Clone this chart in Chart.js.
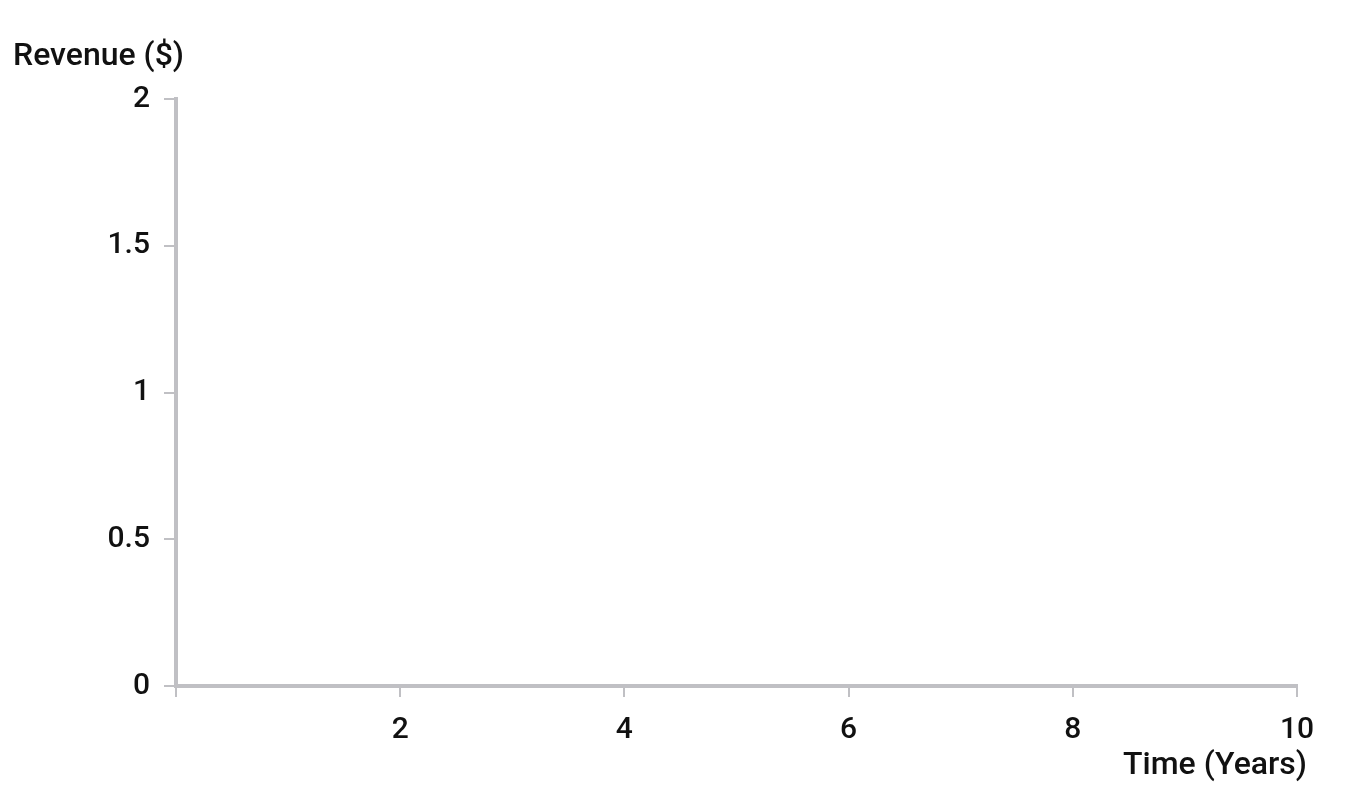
<!DOCTYPE html>
<html>
<head>
<meta charset="utf-8">
<script src="https://cdn.jsdelivr.net/npm/chart.js@4.4.0/dist/chart.umd.min.js"></script>
<style>
  html, body { margin: 0; padding: 0; background: #fff; }
  #wrap { width: 1372px; height: 800px; position: relative; }
</style>
</head>
<body>
<div id="wrap"><canvas id="chart"></canvas></div>
<script>
// axes only, no data plotted yet
const xTicks = [0, 2, 4, 6, 8, 10];
const yTicks = [0, 0.5, 1, 1.5, 2];
const revenue = [];
const xTitle = "Time (Years)";
const yTitle = "Revenue ($)";

const axisColor = "#c0c0c4";
const textColor = "#111";
const font = { family: "Roboto", size: 30, weight: "500" };

// draws the two axis titles horizontally, like the original
const titlePlugin = {
  id: "titles",
  afterDraw(chart) {
    const { ctx, chartArea } = chart;
    ctx.save();
    ctx.fillStyle = textColor;
    ctx.font = "500 32px Roboto";
    ctx.textBaseline = "middle";
    ctx.textAlign = "left";
    ctx.fillText(yTitle, 13, 57);
    ctx.textAlign = "right";
    ctx.fillText(xTitle, chartArea.right + 10, 766);
    ctx.restore();
  }
};

new Chart(document.getElementById("chart"), {
  type: "scatter",
  data: {
    datasets: [{ label: "Revenue", data: revenue, borderColor: "#1f77b4" }]
  },
  options: {
    responsive: true,
    maintainAspectRatio: false,
    animation: false,
    layout: { padding: { left: 0, top: 99, right: 75, bottom: 0 } },
    plugins: { legend: { display: false }, tooltip: { enabled: false } },
    scales: {
      x: {
        type: "linear",
        min: 0,
        max: 10,
        afterBuildTicks: (s) => { s.ticks = xTicks.map(v => ({ value: v })); },
        afterFit: (s) => { s.height = 800 - 686; },
        border: { display: true, color: axisColor, width: 4 },
        grid: { drawOnChartArea: false, drawTicks: true, tickLength: 11, color: axisColor, lineWidth: 2 },
        ticks: {
          color: textColor, font, padding: 15, maxRotation: 0,
          callback: (v) => v === 0 ? "" : String(v)
        }
      },
      y: {
        type: "linear",
        min: 0,
        max: 2,
        afterBuildTicks: (s) => { s.ticks = yTicks.map(v => ({ value: v })); },
        afterFit: (s) => { s.width = 176; },
        border: { display: true, color: axisColor, width: 4 },
        grid: { drawOnChartArea: false, drawTicks: true, tickLength: 12, color: axisColor, lineWidth: 2 },
        ticks: { color: textColor, font, padding: 14, callback: (v) => String(v) }
      }
    }
  },
  plugins: [titlePlugin]
});
</script>
</body>
</html>
